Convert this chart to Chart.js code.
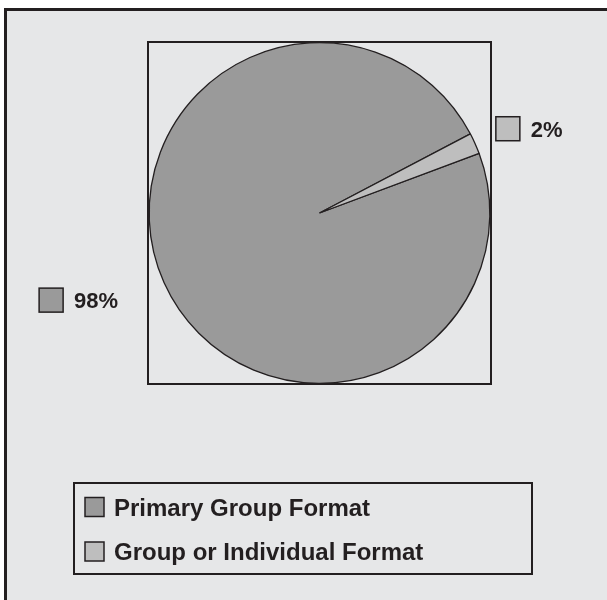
<!DOCTYPE html>
<html>
<head>
<meta charset="utf-8">
<script src="https://cdn.jsdelivr.net/npm/chart.js@4"></script>
<style>
  html, body { margin: 0; padding: 0; background: #ffffff; }
  #wrap { width: 607px; height: 600px; }
</style>
</head>
<body>
<div id="wrap"><canvas id="pieChart" width="607" height="600"></canvas></div>
<script>
// data
const categories = ["Primary Group Format", "Group or Individual Format"];
const shares = [98, 2];
const sliceColors = ["#9a9a9a", "#bebebe"];

const INK = "#231f20";
const PANEL = "#e6e7e8";
const FONT = "'Liberation Sans', Arial, sans-serif";

// plot box that holds the pie
const plotBox = { left: 148, top: 42, right: 491, bottom: 384 };

// frame, plot box and background
const framePlugin = {
    id: "frame",
    beforeDraw(chart) {
        const ctx = chart.ctx;
        ctx.save();
        ctx.fillStyle = "#ffffff";
        ctx.fillRect(0, 0, chart.width, chart.height);
        ctx.fillStyle = PANEL;
        ctx.fillRect(5, 9, chart.width, chart.height);
        ctx.strokeStyle = INK;
        ctx.lineWidth = 3;
        ctx.strokeRect(5.5, 9.5, chart.width + 10, chart.height + 10);
        ctx.restore();
    },
    afterDatasetsDraw(chart) {
        const ctx = chart.ctx;
        ctx.save();
        ctx.strokeStyle = INK;
        ctx.lineWidth = 2;
        ctx.strokeRect(plotBox.left, plotBox.top,
            plotBox.right - plotBox.left, plotBox.bottom - plotBox.top);
        ctx.restore();
    }
};

// percentage labels with a colour key, outside the pie
const sliceLabels = {
    id: "sliceLabels",
    afterDraw(chart) {
        const ctx = chart.ctx;
        const meta = chart.getDatasetMeta(0);
        const total = shares.reduce((a, b) => a + b, 0);
        const size = 22;
        const key = 24;
        ctx.save();
        ctx.font = "bold " + size + "px " + FONT;
        ctx.textBaseline = "alphabetic";
        meta.data.forEach((arc, i) => {
            const mid = (arc.startAngle + arc.endAngle) / 2;
            const r = arc.outerRadius;
            const text = Math.round(shares[i] / total * 100) + "%";
            const tw = ctx.measureText(text).width;
            const right = Math.cos(mid) >= 0;
            const y = arc.y + Math.sin(mid) * (r + (right ? 36 : 43));
            let x0;
            if (right) {
                x0 = arc.x + r + 6;
            } else {
                x0 = arc.x - r - 31 - tw - 11 - key;
            }
            ctx.fillStyle = sliceColors[i];
            ctx.fillRect(x0, y - key / 2, key, key);
            ctx.strokeStyle = INK;
            ctx.lineWidth = 1.5;
            ctx.strokeRect(x0, y - key / 2, key, key);
            ctx.fillStyle = INK;
            ctx.textAlign = "left";
            ctx.fillText(text, x0 + key + 11, y + size * 0.358);
        });
        ctx.restore();
    }
};

// boxed legend under the plot
const boxedLegend = {
    id: "boxedLegend",
    afterDraw(chart) {
        const ctx = chart.ctx;
        const box = { left: 74, top: 483, right: 532, bottom: 574 };
        const size = 24;
        const key = 19;
        ctx.save();
        ctx.strokeStyle = INK;
        ctx.lineWidth = 2;
        ctx.strokeRect(box.left, box.top, box.right - box.left, box.bottom - box.top);
        ctx.font = "bold " + size + "px " + FONT;
        ctx.textAlign = "left";
        chart.data.labels.forEach((label, i) => {
            const cy = 507 + i * 44.5;
            ctx.fillStyle = sliceColors[i];
            ctx.fillRect(85, cy - key / 2, key, key);
            ctx.strokeStyle = INK;
            ctx.lineWidth = 1.5;
            ctx.strokeRect(85, cy - key / 2, key, key);
            ctx.fillStyle = INK;
            ctx.fillText(label, 114, cy + size * 0.358);
        });
        ctx.restore();
    }
};

new Chart(document.getElementById("pieChart"), {
    type: "pie",
    data: {
        labels: categories,
        datasets: [{
            data: shares,
            backgroundColor: sliceColors,
            borderColor: INK,
            borderWidth: 1.3,
            borderAlign: "center"
        }]
    },
    options: {
        responsive: false,
        animation: false,
        rotation: 69.5,
        layout: {
            padding: {
                left: plotBox.left,
                top: plotBox.top,
                right: 607 - plotBox.right,
                bottom: 600 - plotBox.bottom
            }
        },
        plugins: {
            legend: { display: false },
            tooltip: { enabled: false }
        }
    },
    plugins: [framePlugin, sliceLabels, boxedLegend]
});
</script>
</body>
</html>
